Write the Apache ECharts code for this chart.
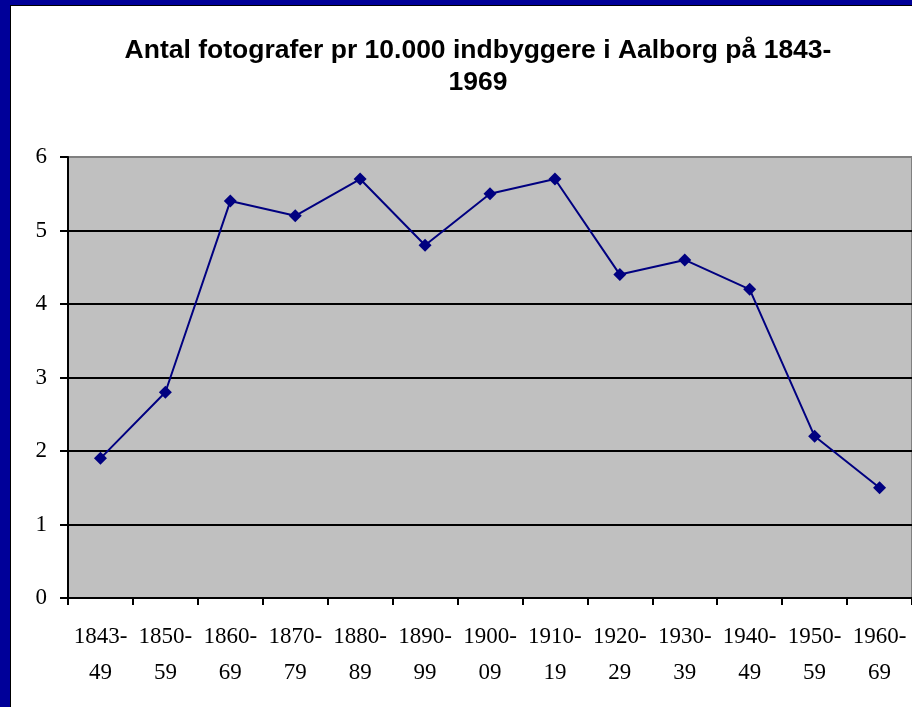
<!DOCTYPE html>
<html>
<head>
<meta charset="utf-8">
<script src="https://cdn.jsdelivr.net/npm/echarts@6/dist/echarts.min.js"></script>
<style>
  html, body { margin: 0; padding: 0; background: #fff; }
  #chart { width: 912px; height: 707px; }
</style>
</head>
<body>
<div id="chart"></div>
<script>
// perioder
const periods = ["1843-\n49", "1850-\n59", "1860-\n69", "1870-\n79", "1880-\n89", "1890-\n99",
  "1900-\n09", "1910-\n19", "1920-\n29", "1930-\n39", "1940-\n49", "1950-\n59", "1960-\n69"];
// fotografer pr 10.000 indbyggere
const perTenThousand = [1.9, 2.8, 5.4, 5.2, 5.7, 4.8, 5.5, 5.7, 4.4, 4.6, 4.2, 2.2, 1.5];
const titleText = "Antal fotografer pr 10.000 indbyggere i Aalborg på 1843-\n1969";

const chart = echarts.init(document.getElementById("chart"));

const option = {
  backgroundColor: "#fff",
  animation: false,
  graphic: [
    // blå ramme
    { type: "rect", shape: { x: 0, y: 0, width: 912, height: 5 }, style: { fill: "#000099" }, z: 100 },
    { type: "rect", shape: { x: 0, y: 0, width: 10, height: 707 }, style: { fill: "#000099" }, z: 100 },
    { type: "rect", shape: { x: 10, y: 5, width: 902, height: 1 }, style: { fill: "#000" }, z: 100 },
    { type: "rect", shape: { x: 10, y: 5, width: 1, height: 702 }, style: { fill: "#000" }, z: 100 }
  ],
  title: {
    text: titleText,
    left: 473,
    top: 30,
    textAlign: "center",
    textStyle: {
      fontFamily: "Liberation Sans, Arial, sans-serif",
      fontWeight: "bold",
      fontSize: 26.5,
      lineHeight: 32,
      color: "#000"
    }
  },
  grid: {
    left: 68,
    top: 157,
    right: -5,
    bottom: 109,
    show: true,
    backgroundColor: "#C0C0C0",
    borderColor: "#808080",
    borderWidth: 2
  },
  xAxis: {
    type: "category",
    data: periods,
    boundaryGap: true,
    axisLine: { show: true, lineStyle: { color: "#000", width: 2 } },
    axisTick: { show: true, inside: false, length: 7, alignWithLabel: false, interval: 0,
      lineStyle: { color: "#000", width: 2 } },
    axisLabel: {
      interval: 0,
      margin: 21,
      fontFamily: "Liberation Serif, Times New Roman, serif",
      fontSize: 23,
      lineHeight: 36,
      color: "#000"
    },
    splitLine: { show: false }
  },
  yAxis: {
    type: "value",
    min: 0,
    max: 6,
    interval: 1,
    axisLine: { show: true, lineStyle: { color: "#000", width: 2 } },
    axisTick: { show: true, inside: false, length: 8, lineStyle: { color: "#000", width: 2 } },
    axisLabel: {
      margin: 21,
      fontFamily: "Liberation Serif, Times New Roman, serif",
      fontSize: 23,
      color: "#000"
    },
    splitLine: { show: true, showMaxLine: false, lineStyle: { color: "#000", width: 2 } }
  },
  series: [
    {
      type: "line",
      data: perTenThousand,
      symbol: "diamond",
      symbolSize: 13,
      lineStyle: { color: "#000080", width: 2 },
      itemStyle: { color: "#000080" }
    }
  ]
};

chart.setOption(option);
</script>
</body>
</html>
